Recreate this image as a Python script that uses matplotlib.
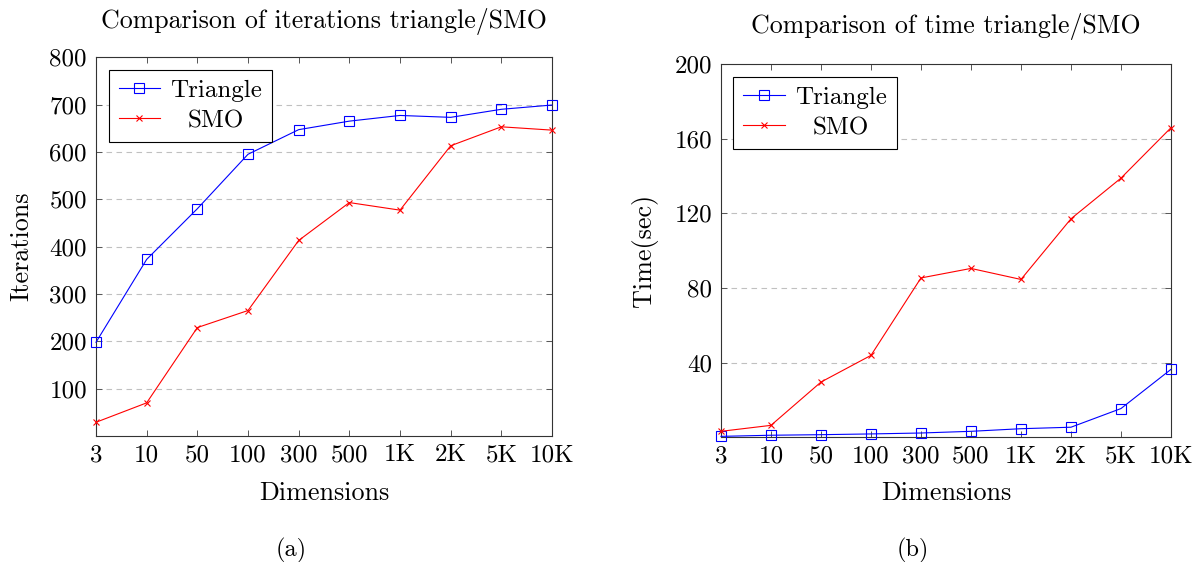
import numpy as np
import matplotlib
matplotlib.use('agg')
import matplotlib.pyplot as plt

plt.rcParams['font.family'] = ['cmr10', 'DejaVu Serif']
plt.rcParams['mathtext.fontset'] = 'cm'
plt.rcParams['axes.formatter.use_mathtext'] = True
plt.rcParams['font.size'] = 18

# Data
dimensions = ['3', '10', '50', '100', '300', '500', '1K', '2K', '5K', '10K']
iter_triangle = [198, 373, 480, 595, 647, 665, 677, 673, 690, 699]
iter_smo = [29, 70, 229, 265, 413, 493, 477, 613, 653, 646]
time_triangle = [0.5, 1.1, 1.4, 1.8, 2.3, 3.2, 4.6, 5.4, 15.4, 36.4]
time_smo = [3.2, 6.4, 29.6, 43.9, 85.4, 90.5, 84.6, 117.1, 138.9, 165.9]

iter_ticks = [100, 200, 300, 400, 500, 600, 700, 800]
time_ticks = [40, 80, 120, 160, 200]

fig = plt.figure(figsize=(12, 5.62), dpi=100)
ax1 = fig.add_axes([0.08, 0.2242, 0.38, 0.674])
ax2 = fig.add_axes([0.6008, 0.2219, 0.375, 0.664])


def style_axes(ax, yticks, ylim, title, ylabel, title_pad):
    x = np.arange(len(dimensions))
    ax.set_xlim(0, len(dimensions) - 1)
    ax.set_ylim(*ylim)
    ax.set_xticks(x)
    ax.set_xticklabels(dimensions)
    ax.set_yticks(yticks)
    ax.set_yticklabels([str(t) for t in yticks])
    ax.tick_params(direction='in', length=4.5, width=0.7, color='#555555',
                   top=True, right=True)
    ax.tick_params(axis='x', pad=6)
    ax.tick_params(axis='y', pad=6.5)
    ax.yaxis.grid(True, color='#c0c0c0', linewidth=0.8, linestyle=(0, (5, 4)))
    ax.set_axisbelow(True)
    for s in ax.spines.values():
        s.set_linewidth(0.8)
        s.set_color('#333333')
    ax.set_title(title, pad=title_pad, fontsize=18.6)
    ax.set_xlabel('Dimensions', fontsize=18.8)
    ax.set_ylabel(ylabel, fontsize=18.8)


def draw_lines(ax, tri, smo):
    x = np.arange(len(dimensions))
    ax.plot(x, tri, color='blue', linewidth=0.8, marker='s', markersize=7.2,
            markerfacecolor='none', markeredgewidth=0.8, label='Triangle', clip_on=False, zorder=3)
    ax.plot(x, smo, color='red', linewidth=0.8, marker='x', markersize=4.5,
            markeredgewidth=0.8, label='SMO', clip_on=False, zorder=3)
    leg = ax.legend(loc='upper left', borderaxespad=0.5, fancybox=False, framealpha=1,
                    edgecolor='black', numpoints=1, handlelength=1.65, handletextpad=0.4,
                    labelspacing=0.3, borderpad=0.4)
    leg.get_frame().set_linewidth(0.8)
    return leg


draw_lines(ax1, iter_triangle, iter_smo)
style_axes(ax1, iter_ticks, (0, 800), 'Comparison of iterations triangle/SMO', 'Iterations', 21)
draw_lines(ax2, time_triangle, time_smo)
style_axes(ax2, time_ticks, (0, 200), 'Comparison of time triangle/SMO', 'Time(sec)', 22.3)

ax1.xaxis.set_label_coords(0.5, -0.119)
ax2.xaxis.set_label_coords(0.5, -0.117)
ax1.yaxis.set_label_coords(-0.138, 0.5)
ax2.yaxis.set_label_coords(-0.141, 0.5)

fig.text(0.243, 1 - 550.5 / 562, '(a)', ha='center', va='center', fontsize=17.5)
fig.text(0.761, 1 - 550.5 / 562, '(b)', ha='center', va='center', fontsize=17.5)

# centre the legend labels like pgfplots does
fig.canvas.draw()
renderer = fig.canvas.get_renderer()
for ax in (ax1, ax2):
    texts = ax.get_legend().get_texts()
    widths = [t.get_window_extent(renderer).width for t in texts]
    wmax = max(widths)
    for t, w in zip(texts, widths):
        t.set_x((wmax - w) / 2)

fig.savefig('out.png', dpi=100)
